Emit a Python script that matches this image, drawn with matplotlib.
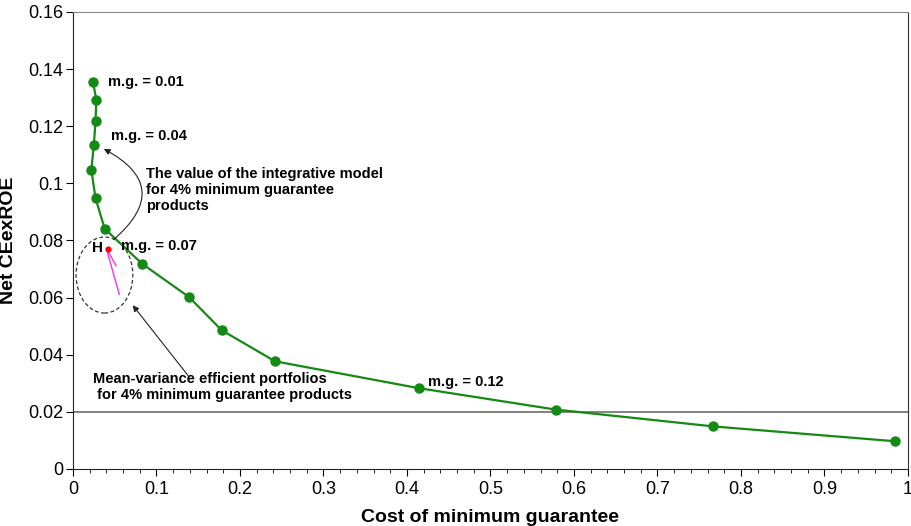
import numpy as np
import matplotlib
matplotlib.use("Agg")
import matplotlib.pyplot as plt
from matplotlib.patches import Ellipse
from matplotlib.ticker import MultipleLocator, FuncFormatter

plt.rcParams['font.family'] = ['Liberation Sans', 'DejaVu Sans']

# efficient frontier of the integrative model (cost vs. net CEexROE)
cost = [0.024, 0.028, 0.027, 0.025, 0.022, 0.027, 0.038, 0.083, 0.139, 0.178,
        0.242, 0.414, 0.578, 0.767, 0.985]
ceexroe = [0.1355, 0.1292, 0.1218, 0.1135, 0.1047, 0.0948, 0.0841, 0.0718,
           0.0602, 0.0486, 0.0377, 0.0283, 0.0208, 0.0149, 0.0097]

# point H and mean-variance portfolios for 4% guarantee
h_point = (0.0415, 0.0769)
mv_a_x = [0.0411, 0.0515]
mv_a_y = [0.0767, 0.0712]
mv_b_x = [0.0415, 0.0554]
mv_b_y = [0.0756, 0.0612]

threshold = 0.02

fig = plt.figure(figsize=(9.11, 5.26), dpi=100)
ax = fig.add_axes([0.0801, 0.1084, 0.9166, 0.8688])

ax.axhline(threshold, color='#777777', lw=1.3, zorder=1)
ax.plot(cost, ceexroe, color='#138a13', lw=1.6, marker='o', ms=6.5, zorder=3)
ax.plot(mv_a_x, mv_a_y, color='#ee44ee', lw=1.1, zorder=2)
ax.plot(mv_b_x, mv_b_y, color='#ee44ee', lw=1.1, zorder=2)
ax.plot(*h_point, 'o', color='red', ms=3.5, zorder=4)

ax.add_patch(Ellipse((0.0377, 0.0679), 0.068, 0.0266, fill=False,
                     ls=(0, (3, 2)), lw=0.9, ec='#333333'))

txt = dict(fontsize=10.5, fontweight='bold', va='center')
ax.text(0.042, 0.1354, 'm.g. = 0.01', **txt)
ax.text(0.045, 0.1166, 'm.g. = 0.04', **txt)
ax.text(0.058, 0.0782, 'm.g. = 0.07', **txt)
ax.text(0.425, 0.0305, 'm.g. = 0.12', **txt)
ax.text(0.0355, 0.0774, 'H', fontsize=11, fontweight='bold', va='center', ha='right')
ax.text(0.0875, 0.0977, 'The value of the integrative model\nfor 4% minimum guarantee\nproducts',
        fontsize=10.5, fontweight='bold', va='center', linespacing=1.2)
ax.text(0.024, 0.0287, 'Mean-variance efficient portfolios\n for 4% minimum guarantee products',
        fontsize=10.5, fontweight='bold', va='center', linespacing=1.2)

arrow = dict(arrowstyle='-|>', color='#222222', lw=0.8, mutation_scale=9)
ax.annotate('', xy=(0.034, 0.1125), xytext=(0.0467, 0.0798),
            arrowprops=dict(connectionstyle='arc3,rad=0.75', **arrow))
ax.annotate('', xy=(0.0695, 0.0581), xytext=(0.140, 0.0319),
            arrowprops=arrow)

ax.set_xlim(0, 1)
ax.set_ylim(0, 0.16)
ax.xaxis.set_major_locator(MultipleLocator(0.1))
ax.xaxis.set_minor_locator(MultipleLocator(0.02))
ax.yaxis.set_major_locator(MultipleLocator(0.02))
fmt = FuncFormatter(lambda v, p: f'{v:.2f}'.rstrip('0').rstrip('.') if v else '0')
ax.xaxis.set_major_formatter(fmt)
ax.yaxis.set_major_formatter(fmt)
ax.tick_params(axis='both', which='major', direction='out', length=5, labelsize=13)
ax.tick_params(axis='y', which='major', pad=2)
ax.tick_params(axis='x', which='minor', direction='out', length=3)

for side in ['left', 'bottom']:
    ax.spines[side].set_color('#222222')
ax.spines['top'].set_color('#888888')
ax.spines['right'].set_color('#333333')

ax.set_xlabel('Cost of minimum guarantee', fontsize=14, fontweight='bold', labelpad=8)
ax.set_ylabel('Net CEexROE', fontsize=14, fontweight='bold', labelpad=8)

plt.savefig('out.png', dpi=100)
plt.close()
